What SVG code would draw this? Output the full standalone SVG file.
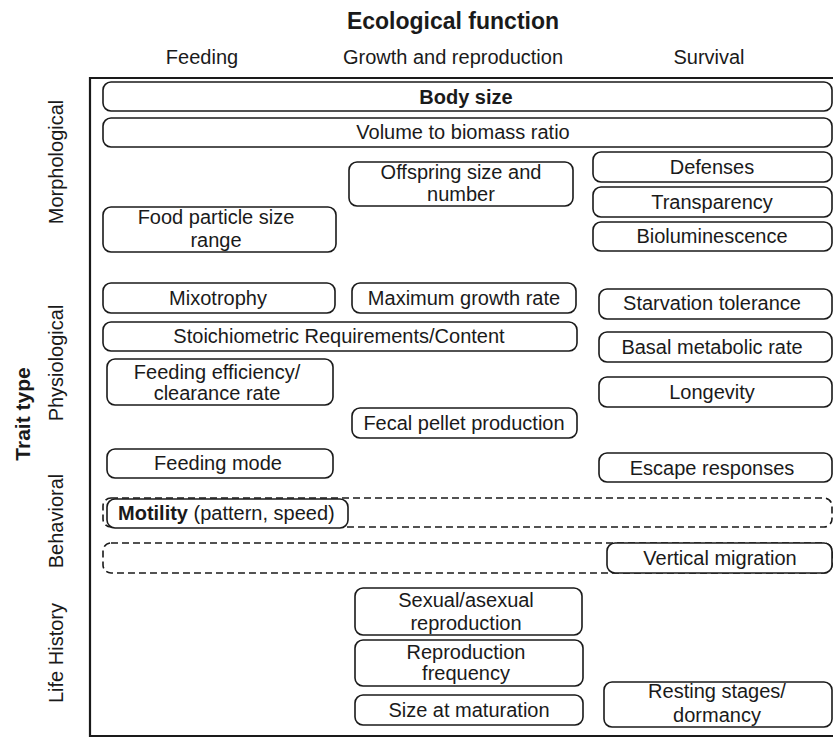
<svg xmlns="http://www.w3.org/2000/svg" width="833" height="738" viewBox="0 0 833 738">
<style>
text{font-family:"Liberation Sans",Arial,sans-serif;font-size:20px;fill:#1a1a1a;text-anchor:middle}
.b{font-weight:bold}
.h{font-size:23px;font-weight:bold}
.box{fill:#fff;stroke:#1a1a1a;stroke-width:1.6}
.dash{fill:none;stroke:#1a1a1a;stroke-width:1.6;stroke-dasharray:7,4}
.frame{fill:none;stroke:#1a1a1a;stroke-width:2.2}
</style>
<rect width="833" height="738" fill="#fff"/>
<g id="headers">
<text class="h" x="453" y="29">Ecological function</text>
<text x="202" y="64">Feeding</text>
<text x="453" y="64">Growth and reproduction</text>
<text x="709" y="64">Survival</text>
<text class="b" style="font-size:21px" transform="translate(30,414) rotate(-90)">Trait type</text>
<text transform="translate(63,162) rotate(-90)">Morphological</text>
<text transform="translate(63,363) rotate(-90)">Physiological</text>
<text transform="translate(63,521) rotate(-90)">Behavioral</text>
<text transform="translate(63,653) rotate(-90)">Life History</text>
</g>
<path class="frame" d="M833 78H90V736H833"/>
<g id="connectors"></g>
<g id="body-size"><rect class="box" x="103" y="82" width="729" height="29" rx="8"/><text class="b" x="466" y="104">Body size</text></g>
<g id="volume"><rect class="box" x="103" y="118" width="729" height="29" rx="8"/><text x="463" y="139">Volume to biomass ratio</text></g>
<g id="offspring"><rect class="box" x="349" y="162" width="224" height="44" rx="8"/><text x="461" y="179">Offspring size and</text><text x="461" y="201">number</text></g>
<g id="defenses"><rect class="box" x="593" y="152" width="239" height="30" rx="8"/><text x="712" y="174">Defenses</text></g>
<g id="transparency"><rect class="box" x="593" y="187" width="239" height="30" rx="8"/><text x="712" y="209">Transparency</text></g>
<g id="bioluminescence"><rect class="box" x="593" y="222" width="239" height="29" rx="8"/><text x="712" y="243">Bioluminescence</text></g>
<g id="food-particle"><rect class="box" x="103" y="207" width="233" height="45" rx="8"/><text x="216" y="224">Food particle size</text><text x="216" y="247">range</text></g>
<g id="mixotrophy"><rect class="box" x="103" y="283" width="232" height="30" rx="8"/><text x="218" y="305">Mixotrophy</text></g>
<g id="max-growth"><rect class="box" x="352" y="283" width="224" height="30" rx="8"/><text x="464" y="305">Maximum growth rate</text></g>
<g id="stoich"><rect class="box" x="103" y="322" width="474" height="29" rx="8"/><text x="339" y="343">Stoichiometric Requirements/Content</text></g>
<g id="starvation"><rect class="box" x="599" y="289" width="233" height="30" rx="8"/><text x="712" y="310">Starvation tolerance</text></g>
<g id="basal"><rect class="box" x="599" y="332" width="233" height="30" rx="8"/><text x="712" y="354">Basal metabolic rate</text></g>
<g id="longevity"><rect class="box" x="599" y="377" width="233" height="30" rx="8"/><text x="712" y="399">Longevity</text></g>
<g id="feeding-eff"><rect class="box" x="107" y="359" width="226" height="46" rx="8"/><text x="217" y="379">Feeding efficiency/</text><text x="217" y="400">clearance rate</text></g>
<g id="fecal"><rect class="box" x="352" y="408" width="225" height="30" rx="8"/><text x="464" y="430">Fecal pellet production</text></g>
<g id="feeding-mode"><rect class="box" x="107" y="449" width="226" height="29" rx="8"/><text x="218" y="470">Feeding mode</text></g>
<g id="escape"><rect class="box" x="599" y="453" width="233" height="29" rx="8"/><text x="712" y="475">Escape responses</text></g>
<g id="motility"><rect class="dash" x="103" y="498" width="729" height="29" rx="8"/><rect class="box" x="107" y="499" width="241" height="29" rx="8"/><text x="118" y="520" style="text-anchor:start"><tspan class="b">Motility</tspan> (pattern, speed)</text></g>
<g id="vertical-migration"><rect class="dash" x="103" y="543" width="729" height="30" rx="8"/><rect class="box" x="607" y="543" width="225" height="30" rx="8"/><text x="720" y="565">Vertical migration</text></g>
<g id="sexual"><rect class="box" x="355" y="588" width="227" height="47" rx="8"/><text x="466" y="607">Sexual/asexual</text><text x="466" y="630">reproduction</text></g>
<g id="repro-freq"><rect class="box" x="355" y="640" width="228" height="46" rx="8"/><text x="466" y="659">Reproduction</text><text x="466" y="680">frequency</text></g>
<g id="size-maturation"><rect class="box" x="355" y="695" width="228" height="30" rx="8"/><text x="469" y="717">Size at maturation</text></g>
<g id="resting"><rect class="box" x="604" y="682" width="228" height="45" rx="8"/><text x="717" y="698">Resting stages/</text><text x="717" y="722">dormancy</text></g>
</svg>
